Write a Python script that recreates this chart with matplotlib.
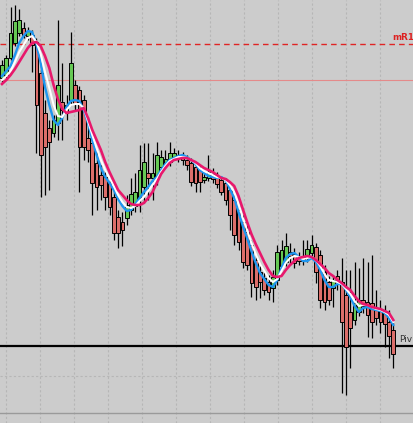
import numpy as np
import matplotlib
matplotlib.use("Agg")
import matplotlib.pyplot as plt

# chart levels (screen units, 0 = top of chart)
opens = [78, 75, 58, 43, 33, 28, 36, 35, 42, 73, 113, 128, 133, 123, 102, 105, 100, 85, 90, 100,
         138, 143, 163, 175, 177, 183, 197, 217, 222, 218, 210, 206, 197, 187, 173, 178, 177, 167, 163, 162,
         157, 158, 157, 160, 163, 167, 170, 180, 178, 174, 178, 180, 183, 190, 200, 210, 222, 232, 245, 260,
         272, 278, 282, 288, 280, 266, 262, 252, 254, 258, 256, 258, 253, 247, 255, 272, 282, 288, 276, 282,
         295, 312, 320, 312, 300, 302, 303, 308, 311, 312, 322, 330]
highs = [60, 55, 7, 5, 9, 22, 27, 30, 38, 70, 100, 120, 115, 20, 63, 95, 32, 80, 86, 95,
         117, 135, 150, 165, 170, 178, 190, 210, 212, 195, 178, 173, 145, 143, 143, 153, 142, 150, 150, 142,
         148, 150, 152, 155, 158, 162, 165, 172, 155, 168, 172, 176, 178, 185, 195, 205, 215, 225, 240, 255,
         265, 272, 275, 270, 245, 240, 233, 243, 248, 252, 240, 240, 235, 243, 250, 265, 276, 275, 270, 258,
         270, 270, 262, 268, 258, 262, 255, 290, 300, 305, 310, 322]
lows = [82, 78, 60, 46, 36, 38, 40, 72, 153, 197, 195, 190, 137, 140, 140, 120, 105, 110, 192, 160,
        162, 215, 210, 200, 210, 215, 240, 248, 246, 225, 215, 212, 212, 203, 200, 200, 185, 172, 168, 166,
        160, 162, 165, 170, 186, 192, 192, 183, 181, 183, 188, 195, 205, 230, 245, 250, 268, 270, 297, 300,
        298, 295, 300, 302, 285, 270, 266, 265, 268, 265, 265, 262, 256, 283, 308, 310, 305, 307, 290, 393,
        395, 368, 325, 316, 313, 337, 338, 325, 333, 347, 358, 368]
closes = [65, 58, 33, 21, 20, 35, 31, 45, 105, 155, 147, 142, 120, 85, 110, 113, 63, 103, 147, 147,
          150, 183, 187, 185, 197, 207, 233, 233, 230, 205, 194, 192, 170, 162, 178, 173, 155, 157, 159, 153,
          153, 155, 160, 165, 182, 183, 182, 177, 172, 179, 184, 192, 200, 215, 235, 242, 262, 265, 283, 287,
          282, 290, 292, 277, 252, 250, 246, 256, 263, 261, 260, 249, 245, 272, 300, 302, 300, 280, 282, 322,
          347, 328, 303, 300, 306, 315, 322, 318, 322, 324, 336, 354]

ma_fast = [76, 71, 66, 55, 43, 36, 31, 32, 44, 63, 87, 105, 120, 125, 118, 107, 101, 100, 101, 110,
           123, 140, 155, 168, 177, 183, 190, 199, 206, 211, 210, 204, 198, 192, 187, 181, 177, 170, 164, 160,
           158, 156, 155, 157, 160, 164, 170, 173, 176, 177, 178, 177, 180, 189, 198, 212, 226, 238, 251, 263,
           273, 279, 285, 287, 280, 268, 258, 254, 253, 257, 261, 261, 258, 262, 270, 280, 287, 287, 284, 284,
           290, 297, 306, 312, 308, 307, 309, 310, 311, 313, 318, 325]
ma_mid = [80, 76, 71, 62, 52, 45, 38, 36, 42, 54, 72, 88, 105, 116, 117, 110, 105, 104, 104, 108,
          121, 135, 148, 160, 170, 178, 186, 195, 202, 207, 208, 206, 201, 197, 191, 185, 179, 172, 166, 161,
          159, 157, 157, 158, 160, 163, 168, 171, 173, 175, 177, 178, 180, 185, 192, 204, 218, 230, 243, 254,
          264, 271, 278, 282, 279, 271, 263, 258, 256, 257, 259, 258, 257, 260, 266, 274, 280, 281, 282, 284,
          289, 294, 301, 306, 305, 305, 307, 309, 310, 312, 315, 322]
ma_slow = [84, 80, 75, 69, 62, 55, 48, 43, 42, 46, 56, 68, 85, 99, 109, 113, 112, 111, 110, 108,
           118, 130, 140, 150, 162, 172, 181, 190, 195, 200, 204, 205, 205, 203, 198, 192, 183, 174, 168, 163,
           160, 159, 158, 158, 160, 162, 165, 168, 170, 172, 175, 178, 179, 182, 186, 196, 209, 222, 234, 244,
           253, 262, 270, 276, 277, 276, 270, 265, 261, 258, 257, 256, 257, 260, 264, 268, 273, 276, 280, 283,
           287, 290, 296, 301, 304, 305, 307, 308, 309, 311, 313, 320]

MR1_LEVEL = 44
RED_LEVEL = 80
PIVOT_LEVEL = 346.5
BOTTOM_LEVEL = 413

BG = "#cccccc"
UP = "#66c854"
DOWN = "#dc6e6a"

fig = plt.figure(figsize=(4.13, 4.23), dpi=100, facecolor=BG)
ax = fig.add_axes([0, 0, 1, 1], facecolor=BG)

step = 4.3          # pixels per bar
x0 = 2              # pixel of first bar
ax.set_xlim(-x0 / step, (413 - x0) / step)
ax.set_ylim(423, 0)
ax.axis("off")

# dotted grid
for px in range(6, 413, 34):
    ax.axvline((px - x0) / step, color="#b6b6b6", lw=0.8, ls=(0, (2, 2)), zorder=0)
ax.axhline(376, color="#b6b6b6", lw=0.8, ls=(0, (2, 2)), zorder=0)

# levels
ax.axhline(MR1_LEVEL, color="#e02424", lw=1.0, ls=(0, (4, 3)), zorder=1)
ax.axhline(RED_LEVEL, color="#e48a8a", lw=0.8, zorder=1)
ax.axhline(PIVOT_LEVEL, color="black", lw=1.6, zorder=1)
ax.axhline(BOTTOM_LEVEL, color="#9a9a9a", lw=1.0, zorder=1)

# candles
x = np.arange(len(opens))
o = np.array(opens)
c = np.array(closes)
ax.vlines(x, highs, lows, color="black", lw=0.9, zorder=2)
cols = [UP if cc < oo else DOWN for oo, cc in zip(o, c)]
ax.bar(x, np.abs(o - c), bottom=np.minimum(o, c), width=0.85, color=cols,
       edgecolor="black", linewidth=0.7, zorder=3)

# moving averages
ax.plot(x, ma_fast, color="#1e96f0", lw=1.7, zorder=4)
ax.plot(x, ma_mid, color="white", lw=1.5, zorder=5)
ax.plot(x, ma_slow, color="#e8186c", lw=1.9, zorder=6)

ax.text((392 - x0) / step, 37, "mR1", color="#dd2020", fontsize=6.3, fontweight="bold",
        va="center", ha="left")
ax.text((399 - x0) / step, 340, "Piv", color="#333333", fontsize=6.5,
        va="center", ha="left")

fig.savefig("out.png", dpi=100, facecolor=BG)
